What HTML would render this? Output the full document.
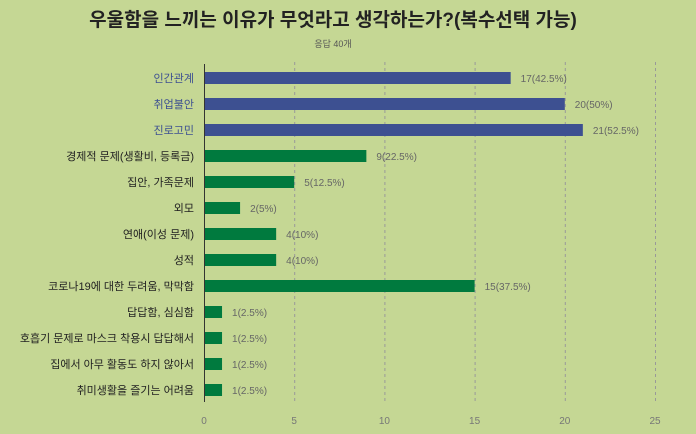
<!DOCTYPE html>
<html><head><meta charset="utf-8"><style>
body{margin:0;background:#c5d794;}
svg{display:block;font-family:"Liberation Sans","Noto Sans CJK KR",sans-serif;}
</style></head><body>
<svg width="696" height="434">
<rect width="696" height="434" fill="#c5d794"/>
<text x="333" y="26" text-anchor="middle" font-size="19" font-weight="bold" fill="#222">우울함을 느끼는 이유가 무엇라고 생각하는가?(복수선택 가능)</text>
<text x="333" y="47" text-anchor="middle" font-size="9" fill="#555">응답 40개</text>
<g id="grid"></g><g id="bars"></g><g id="labels"></g><g id="ticks"></g>
<line x1="204.5" y1="64" x2="204.5" y2="402" stroke="#333" stroke-width="1"/>
</svg>
<script>
const categories=["인간관계","취업불안","진로고민","경제적 문제(생활비, 등록금)","집안, 가족문제","외모","연애(이성 문제)","성적","코로나19에  대한 두려움, 막막함","답답함, 심심함","호흡기 문제로 마스크 착용시 답답해서","집에서 아무 활동도 하지 않아서","취미생활을 즐기는 어려움"];
const values=[17,20,21,9,5,2,4,4,15,1,1,1,1];
const pctLabels=["17(42.5%)","20(50%)","21(52.5%)","9(22.5%)","5(12.5%)","2(5%)","4(10%)","4(10%)","15(37.5%)","1(2.5%)","1(2.5%)","1(2.5%)","1(2.5%)"];
const highlighted=[true,true,true,false,false,false,false,false,false,false,false,false,false];
const ticks=[0,5,10,15,20,25];
const NS="http://www.w3.org/2000/svg";
const x=v=>204+v*18.04;
const y=i=>78+i*26;
function mk(t,a,p){const e=document.createElementNS(NS,t);for(const k in a)e.setAttribute(k,a[k]);document.getElementById(p).appendChild(e);return e;}
ticks.forEach(t=>{
  if(t>0){const g=mk('line',{x1:x(t)+.5,x2:x(t)+.5,y1:62,y2:402,stroke:'#999','stroke-dasharray':'3,3'},'grid');
  
  }
  const tl=mk('text',{x:x(t),y:424,'text-anchor':'middle','font-size':10,fill:'#777'},'ticks');
  tl.textContent=t;
  
  
});
categories.forEach((c,i)=>{
  const b=mk('rect',{x:204,y:y(i)-6,width:values[i]*18.04,height:12,fill:highlighted[i]?'#3d5091':'#007a3e'},'bars');
  
  
  const l=mk('text',{x:194,y:y(i)+4,'text-anchor':'end','font-size':11,fill:highlighted[i]?'#3d5091':'#222'},'labels');
  l.textContent=c;
  
  
  const v=mk('text',{x:x(values[i])+10,y:y(i)+4,'font-size':10,fill:'#666'},'labels');
  v.textContent=pctLabels[i];
  
  
});
</script>
</body></html>
